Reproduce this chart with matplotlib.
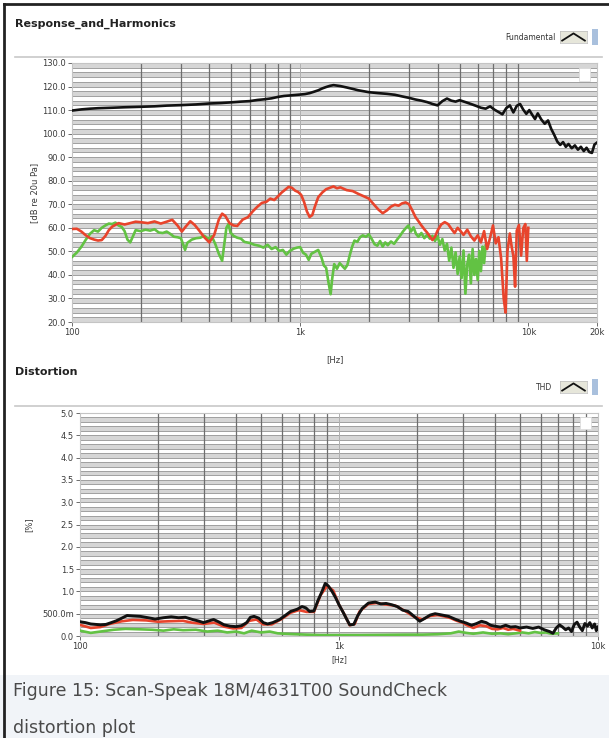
import numpy as np
import matplotlib
matplotlib.use("Agg")
import matplotlib.pyplot as plt
from matplotlib.lines import Line2D
from matplotlib.patches import Rectangle

# ---------------- data ----------------
fund_f = [100,110,120,130,150,170,200,230,260,300,350,400,450,500,550,600,650,700,750,800,850,900,950,1000,
          1050,1100,1150,1200,1250,1300,1350,1400,1450,1500,1600,1700,1800,1900,2000,2200,2400,2600,2800,3000,
          3200,3400,3600,3800,4000,4200,4400,4600,4800,5000,5300,5600,5900,6200,6500,6800,7100,7400,7700,8000,
          8300,8600,8900,9200,9500,9800,10100,10400,10700,11000,11400,11800,12200,12600,13000,13400,13800,14200,
          14600,15000,15500,16000,16500,17000,17500,18000,18500,19000,19500,20000]
fund_v = [109.8,110.3,110.6,110.8,111.0,111.2,111.4,111.6,111.9,112.1,112.4,112.8,113.0,113.3,113.6,113.8,114.3,
          114.6,115.0,115.6,116.0,116.2,116.4,116.6,116.8,117.2,117.8,118.4,119.2,119.8,120.3,120.6,120.4,120.2,
          119.6,119.0,118.4,118.0,117.6,117.2,116.9,116.5,115.8,115.2,114.5,114.0,113.4,112.6,112.0,113.8,114.9,
          114.0,113.6,114.2,113.4,112.6,111.8,111.0,110.6,111.6,110.2,109.2,108.2,110.8,112.0,109.0,111.8,112.6,
          110.2,108.4,110.0,108.0,106.2,108.6,106.0,104.2,105.6,102.0,99.4,96.6,95.2,96.4,94.4,95.6,93.8,95.0,
          93.2,94.4,92.6,94.0,92.2,91.8,95.4,96.2]

h2_f = [100,105,110,115,120,125,130,135,140,145,150,160,170,180,190,200,215,230,245,260,275,290,303,315,330,345,
        360,380,400,420,440,455,470,490,510,530,560,590,620,650,680,710,740,770,800,830,860,890,920,950,980,1010,
        1040,1070,1100,1130,1160,1200,1250,1300,1350,1400,1450,1500,1600,1700,1800,1900,2000,2100,2200,2300,2400,
        2500,2600,2700,2800,2900,3000,3100,3200,3300,3400,3500,3600,3700,3800,3900,4000,4150,4300,4450,4600,4750,
        4900,5050,5200,5400,5600,5800,6000,6200,6400,6600,6800,7000,7200,7400,7600,7800,7950,8100,8300,8450,8600,
        8750,8900,9100,9300,9500,9700,9850,10000]
h2_v = [59.5,59.6,58.4,56.8,55.6,55.0,54.6,54.8,56.5,59.0,60.5,62.0,61.4,62.0,62.6,62.4,62.0,62.7,61.8,62.6,63.4,
        61.0,58.4,60.5,62.8,61.2,59.0,56.0,53.8,57.0,63.5,66.0,65.0,62.0,61.0,60.8,63.5,64.5,67.0,69.0,70.6,71.0,
        72.4,71.8,73.4,75.0,76.2,77.4,77.0,75.8,75.2,74.0,71.0,67.0,64.6,65.4,69.0,73.0,75.0,76.4,77.0,77.6,76.8,
        77.2,76.0,75.6,74.4,73.4,72.4,70.0,67.8,66.2,67.4,69.0,69.8,69.4,70.4,70.8,70.0,67.4,64.6,62.8,61.0,59.4,
        58.0,56.4,54.8,56.2,58.8,61.4,62.4,61.6,59.6,57.8,60.0,58.6,57.0,59.2,56.4,54.6,56.8,53.8,58.6,51.0,55.8,
        61.0,53.4,56.0,47.0,30.0,24.0,50.0,57.6,52.0,48.0,35.0,58.8,61.2,48.2,59.8,61.6,46.0,60.0]

h3_f = [100,105,110,115,120,125,130,135,140,145,150,155,160,165,170,175,180,185,190,200,210,220,230,240,250,260,
        270,280,290,300,307,313,320,335,350,365,380,395,410,425,440,455,465,475,485,495,510,530,550,570,600,630,
        660,690,720,750,780,810,840,870,900,940,970,1000,1030,1060,1090,1120,1160,1200,1240,1270,1300,1330,1360,
        1380,1410,1450,1490,1530,1570,1610,1650,1690,1730,1780,1830,1880,1940,2000,2060,2120,2180,2240,2300,2360,
        2420,2500,2580,2660,2740,2820,2900,2980,3060,3140,3220,3300,3400,3500,3600,3700,3800,3900,4000,4100,4200,
        4300,4400,4500,4600,4700,4800,4900,5000,5100,5200,5300,5400,5500,5600,5700,5800,5900,6000,6100,6200,6300,
        6400,6500]
h3_v = [47.6,49.5,52.0,55.0,57.5,59.0,58.4,60.0,61.0,61.8,61.6,62.2,61.0,60.4,58.6,55.0,53.8,56.4,59.0,58.6,59.2,
        58.8,59.4,58.0,57.8,58.4,57.4,56.2,56.0,55.6,53.0,50.6,53.6,55.0,55.6,55.8,56.6,55.4,56.4,53.0,49.0,46.0,
        53.0,60.0,61.6,58.0,56.6,55.8,55.4,54.0,53.6,52.8,52.4,51.6,52.8,51.0,51.8,50.2,50.6,48.6,50.2,51.2,51.6,
        51.8,49.4,48.6,46.4,49.0,49.8,50.6,47.4,44.0,43.0,37.0,31.8,38.0,44.6,42.6,45.0,43.8,42.6,44.2,48.4,52.0,
        54.6,54.0,56.0,56.8,56.2,57.2,55.2,53.0,52.4,54.4,52.0,53.8,52.6,54.2,53.2,55.0,56.6,58.4,59.8,61.0,58.4,
        60.2,57.4,56.2,57.8,55.6,57.0,55.4,56.6,54.4,56.4,52.8,55.2,50.4,53.2,46.0,51.6,43.0,49.6,40.4,47.8,38.6,
        50.4,32.0,44.6,48.6,36.4,51.0,40.0,46.8,37.8,50.2,41.6,52.0,45.0,52.4]

thd_f = [100,105,110,115,120,126,132,138,145,152,160,171,183,195,210,225,240,255,272,285,300,315,328,345,360,380,
         400,420,440,455,470,490,510,530,555,590,620,650,690,720,745,770,800,830,860,885,910,940,970,1000,1040,
         1070,1100,1140,1180,1230,1300,1380,1450,1520,1600,1680,1760,1850,1950,2050,2150,2250,2350,2450,2550,
         2650,2800,2950,3100,3250,3400,3550,3700,3850,4000,4200,4400,4600,4800,5000,5300,5600,5900,6200,6500,
         6700,6900,7100,7300,7500,7700,7900,8100,8300,8500,8700,8900,9100,9300,9500,9700,9850,10000]
thd_v = [0.32,0.30,0.27,0.26,0.25,0.26,0.30,0.34,0.40,0.46,0.45,0.44,0.41,0.38,0.41,0.43,0.41,0.42,0.37,0.34,0.30,
         0.34,0.37,0.31,0.25,0.22,0.21,0.23,0.30,0.42,0.44,0.40,0.30,0.27,0.30,0.37,0.46,0.55,0.60,0.66,0.63,0.55,
         0.56,0.80,1.00,1.18,1.12,1.00,0.86,0.70,0.52,0.38,0.25,0.26,0.45,0.62,0.74,0.76,0.72,0.73,0.70,0.66,0.58,
         0.55,0.44,0.33,0.40,0.47,0.50,0.48,0.46,0.44,0.38,0.33,0.29,0.24,0.28,0.33,0.30,0.24,0.22,0.20,0.24,0.20,
         0.21,0.18,0.20,0.17,0.20,0.14,0.10,0.06,0.18,0.25,0.20,0.14,0.18,0.10,0.26,0.31,0.20,0.12,0.28,0.22,0.30,
         0.18,0.27,0.12,0.20]

d2_f = [100,110,120,130,145,160,180,200,220,250,270,300,330,360,390,420,450,480,510,550,600,650,700,750,800,850,
        900,950,1000,1050,1100,1150,1200,1300,1400,1500,1650,1800,1950,2100,2250,2400,2550,2700,2850,3000,3100,
        3300,3500,3700,3900,4100,4300,4500,4700,5000]
d2_v = [0.25,0.18,0.20,0.27,0.33,0.36,0.35,0.32,0.33,0.34,0.30,0.27,0.30,0.21,0.17,0.18,0.34,0.37,0.26,0.26,0.38,
        0.52,0.58,0.54,0.54,0.92,1.12,1.02,0.70,0.48,0.24,0.27,0.55,0.72,0.74,0.71,0.68,0.56,0.43,0.37,0.45,0.47,
        0.44,0.40,0.34,0.30,0.25,0.18,0.24,0.22,0.16,0.15,0.18,0.14,0.16,0.12]

d3_f = [100,110,120,135,150,170,190,210,230,250,280,310,340,370,400,430,460,500,540,580,620,680,750,850,1000,1200,
        1500,1800,2100,2400,2700,2900,3100,3300,3600,3900,4200,4500,4800,5100,5400,5700,6000,6300,6600,7000]
d3_v = [0.12,0.07,0.10,0.14,0.16,0.15,0.14,0.12,0.15,0.13,0.14,0.10,0.12,0.08,0.10,0.06,0.12,0.08,0.10,0.06,0.05,
        0.04,0.03,0.02,0.02,0.02,0.025,0.03,0.03,0.04,0.06,0.10,0.07,0.05,0.08,0.05,0.06,0.04,0.06,0.08,0.06,0.09,
        0.07,0.08,0.05,0.06]

top_yticks = [130, 120, 110, 100, 90, 80, 70, 60, 50, 40, 30, 20]
top_ylabels = ["130.0", "120.0", "110.0", "100.0", "90.0", "80.0", "70.0", "60.0", "50.0", "40.0", "30.0", "20.0"]
top_xticks = [100, 1000, 10000, 20000]
top_xlabels = ["100", "1k", "10k", "20k"]
bot_yticks = [5.0, 4.5, 4.0, 3.5, 3.0, 2.5, 2.0, 1.5, 1.0, 0.5, 0.0]
bot_ylabels = ["5.0", "4.5", "4.0", "3.5", "3.0", "2.5", "2.0", "1.5", "1.0", "500.0m", "0.0"]
bot_xticks = [100, 1000, 10000]
bot_xlabels = ["100", "1k", "10k"]
vgrid_f = [200, 300, 400, 500, 600, 700, 800, 900, 2000, 3000, 4000, 5000, 6000, 7000, 8000, 9000]

# ---------------- figure ----------------
W, H = 609, 738
fig = plt.figure(figsize=(W / 100, H / 100), dpi=100)
fig.patch.set_facecolor("white")

def fx(x):
    return x / W

def fy(y):
    return 1 - y / H

def add_ax(x0, y0, x1, y1):
    return fig.add_axes([fx(x0), fy(y1), fx(x1) - fx(x0), (y1 - y0) / H])

BLACK = "#111111"
RED = "#e8442c"
GREEN = "#62c243"
TXT = "#3a3a3a"

def style_axes(ax, ylo, yhi, step):
    ax.set_facecolor("white")
    yy = ylo
    k = 0
    while yy < yhi - 1e-9:
        if k % 2 == 0:
            ax.axhspan(yy, yy + step, color="#d6d6d6", lw=0, zorder=0)
        ax.axhline(yy, color="#a0a0a0", lw=0.7, zorder=1)
        yy += step
        k += 1
    for f in vgrid_f:
        ax.axvline(f, color="#6e6e6e", lw=0.9, zorder=1.5)
    ax.axvline(1000, color="#b0b0b0", lw=0.7, zorder=1.5)
    for s in ax.spines.values():
        s.set_color("#c4c4c4")
        s.set_linewidth(0.8)
    ax.tick_params(axis="both", which="major", length=3, width=0.6, color="#555555",
                   labelsize=6, labelcolor=TXT, pad=1.5)
    ax.tick_params(axis="both", which="minor", length=0)
    # graph-palette icon in the corner
    ax.add_patch(Rectangle((0.965, 0.93), 0.022, 0.05, transform=ax.transAxes,
                           facecolor="white", edgecolor="#dddddd", lw=0.6, zorder=5))

# ---------- top chart ----------
ax1 = add_ax(72, 63, 597, 322)
ax1.set_xscale("log")
ax1.set_xlim(100, 20000)
ax1.set_ylim(20, 130)
style_axes(ax1, 20, 130, 2)
ax1.plot(h3_f, h3_v, color=GREEN, lw=1.9, zorder=3)
ax1.plot(h2_f, h2_v, color=RED, lw=1.9, zorder=4)
ax1.plot(fund_f, fund_v, color=BLACK, lw=1.9, zorder=5)
ax1.set_yticks(top_yticks)
ax1.set_yticklabels(top_ylabels)
ax1.set_xticks(top_xticks)
ax1.set_xticklabels(top_xlabels)
ax1.xaxis.set_minor_locator(matplotlib.ticker.NullLocator())
ax1.set_ylabel("[dB re 20u Pa]", fontsize=6, color=TXT, labelpad=2)
ax1.set_xlabel("[Hz]", fontsize=6, color=TXT, labelpad=13)

# ---------- bottom chart ----------
ax2 = add_ax(80, 413, 598, 636)
ax2.set_xscale("log")
ax2.set_xlim(100, 10000)
ax2.set_ylim(0, 5)
style_axes(ax2, 0, 5, 0.1)
ax2.plot(d3_f, d3_v, color=GREEN, lw=1.9, zorder=3)
ax2.plot(d2_f, d2_v, color=RED, lw=1.9, zorder=4)
ax2.plot(thd_f, thd_v, color=BLACK, lw=2.1, zorder=5)
ax2.set_yticks(bot_yticks)
ax2.set_yticklabels(bot_ylabels)
ax2.set_xticks(bot_xticks)
ax2.set_xticklabels(bot_xlabels)
ax2.xaxis.set_minor_locator(matplotlib.ticker.NullLocator())
ax2.set_ylabel("[%]", fontsize=6, color=TXT, labelpad=6)
ax2.set_xlabel("[Hz]", fontsize=5.5, color=TXT, labelpad=3)

# ---------- titles, separators, legend widgets ----------
fig.text(fx(15), fy(24), "Response_and_Harmonics", fontsize=8, fontweight="bold",
         color="#222222", va="center", ha="left")
fig.text(fx(15), fy(372), "Distortion", fontsize=8, fontweight="bold",
         color="#222222", va="center", ha="left")
for ysep in (57, 406):
    fig.add_artist(Line2D([fx(15), fx(602)], [fy(ysep), fy(ysep)], color="#c8c8c8", lw=1.2))

def legend_widget(label, xtext, ycen):
    fig.text(fx(xtext), fy(ycen), label, fontsize=5.5, color="#333333", va="center", ha="right")
    ia = fig.add_axes([fx(560), fy(ycen + 6), fx(587) - fx(560), 12 / H])
    ia.set_facecolor("#e6e6da")
    ia.set_xlim(0, 1)
    ia.set_ylim(0, 1)
    ia.plot([0.08, 0.5, 0.92], [0.2, 0.8, 0.2], color="#111111", lw=1.3)
    ia.set_xticks([])
    ia.set_yticks([])
    for s in ia.spines.values():
        s.set_color("#bbbbbb")
        s.set_linewidth(0.5)
    fig.add_artist(Rectangle((fx(592), fy(ycen + 8)), 6 / W, 16 / H, facecolor="#a9c0dd",
                             edgecolor="none"))

legend_widget("Fundamental", 556, 37)
legend_widget("THD", 552, 387)

# ---------- frame and caption ----------
fig.add_artist(Rectangle((0, 0), 1, fy(675), facecolor="#f1f4f8", edgecolor="none", zorder=-1))
fig.add_artist(Line2D([fx(4), fx(4)], [0, fy(4)], color="#222222", lw=2.0))
fig.add_artist(Line2D([fx(4), 1], [fy(4), fy(4)], color="#222222", lw=2.0))
fig.text(fx(13), fy(691), "Figure 15: Scan-Speak 18M/4631T00 SoundCheck", fontsize=12.5,
         color="#4a4a4a", va="center", ha="left")
fig.text(fx(13), fy(728), "distortion plot", fontsize=12.5,
         color="#4a4a4a", va="center", ha="left")

fig.savefig("out.png", dpi=100, facecolor=fig.get_facecolor())
